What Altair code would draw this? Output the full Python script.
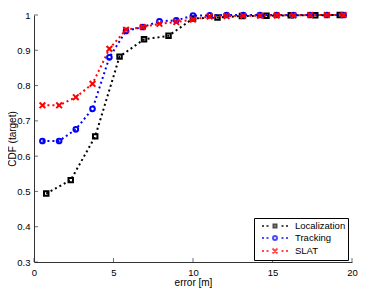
import altair as alt
import pandas as pd

series_names = ["Localization", "Tracking", "SLAT"]
series_colors = ["black", "blue", "red"]

loc_error = [0.77, 2.31, 3.85, 5.38, 6.92, 8.46, 10.0, 11.54, 13.08, 14.62, 16.15, 17.69, 19.23]
loc_cdf = [0.494, 0.532, 0.656, 0.882, 0.931, 0.941, 0.990, 0.993, 0.997, 0.998, 0.999, 0.999, 1.0]

trk_error = [0.53, 1.58, 2.63, 3.68, 4.74, 5.79, 6.84, 7.89, 8.95, 10.0, 11.05, 12.11,
             13.16, 14.21, 15.26, 16.32, 17.37, 18.42, 19.47]
trk_cdf = [0.643, 0.643, 0.676, 0.734, 0.880, 0.955, 0.966, 0.982, 0.985, 0.998, 0.999, 1.0,
           1.0, 1.0, 1.0, 1.0, 1.0, 1.0, 1.0]

slat_error = [0.53, 1.58, 2.63, 3.68, 4.74, 5.79, 6.84, 7.89, 8.95, 10.0, 11.05, 12.11,
              13.16, 14.21, 15.26, 16.32, 17.37, 18.42, 19.47]
slat_cdf = [0.744, 0.744, 0.767, 0.805, 0.904, 0.958, 0.966, 0.975, 0.980, 0.987, 0.996, 0.997,
            0.998, 0.998, 0.999, 0.999, 1.0, 1.0, 1.0]

y_tick_values = [0.3, 0.4, 0.5, 0.6, 0.7, 0.8, 0.9, 1.0]
x_tick_values = [0, 5, 10, 15, 20]
x_min, y_min = 0, 0.3

rows = []
for name, xs, ys in zip(series_names, [loc_error, trk_error, slat_error], [loc_cdf, trk_cdf, slat_cdf]):
    for xv, yv in zip(xs, ys):
        rows.append({"series": name, "error": xv, "cdf": yv})
df = pd.DataFrame(rows)
xticks_df = pd.DataFrame({"error": x_tick_values, "cdf": [y_min] * len(x_tick_values)})
yticks_df = pd.DataFrame({"cdf": y_tick_values, "error": [x_min] * len(y_tick_values)})

FONT = "Liberation Sans"
AXIS_COLOR = "#333333"

marker_shape = ["square", "circle", "M-1,-1L1,1M-1,1L1,-1"]
marker_size = [20, 22, 32]

# legend glyphs (unit = 5 px for symbolSize 100)
dashes = "M-2.6,0H-2.2M-1.7,0H-1.3M1.3,0H1.7M2.2,0H2.6"
legend_paths = [
    dashes + "M-0.3,-0.3H0.3V0.3H-0.3Z",
    dashes + "M-0.4,0A0.4,0.4 0 1,0 0.4,0A0.4,0.4 0 1,0 -0.4,0",
    dashes + "M-0.5,-0.5L0.5,0.5M-0.5,0.5L0.5,-0.5",
]

color_scale = alt.Scale(domain=series_names, range=series_colors)
shape_scale = alt.Scale(domain=series_names, range=legend_paths)
legend = alt.Legend(
    title=None, orient="none", legendX=220, legendY=203,
    strokeColor="black", fillColor="white", padding=2,
    labelFont=FONT, labelFontSize=9.5, labelColor="black", labelOffset=14,
    symbolSize=100, symbolStrokeWidth=2, symbolOffset=13, rowPadding=0,
)

x_enc = alt.X("error:Q", scale=alt.Scale(domain=[0, 20], nice=False),
              axis=alt.Axis(values=x_tick_values, title="error [m]", grid=False,
                            ticks=False, labelPadding=5, titlePadding=1,
                            labelOverlap=False, labelFlush=False))
y_enc = alt.Y("cdf:Q", scale=alt.Scale(domain=[0.3, 1.0], nice=False, zero=False),
              axis=alt.Axis(values=y_tick_values, format="~g", title="CDF (target)", grid=False,
                            ticks=False, labelPadding=4, titleX=-16.5,
                            labelOverlap=False, labelFlush=False))

base = alt.Chart(df)
layers = []
for i, name in enumerate(series_names):
    sub = base.transform_filter(alt.datum.series == name)
    layers.append(sub.mark_line(strokeDash=[2, 3], strokeWidth=2, color=series_colors[i])
                  .encode(x=x_enc, y=y_enc))
    layers.append(sub.mark_point(filled=False, strokeWidth=2, opacity=1, color=series_colors[i],
                                 shape=marker_shape[i], size=marker_size[i])
                  .encode(x=x_enc, y=y_enc))

# legend-only layer (no rows survive the filter; entries come from the scale domain)
legend_layer = base.transform_filter("datum.error < 0").mark_point(filled=False, strokeWidth=2).encode(
    x=x_enc, y=y_enc,
    color=alt.Color("series:N", scale=color_scale, legend=legend),
    shape=alt.Shape("series:N", scale=shape_scale, legend=legend),
)

# inward ticks
xtick_layer = alt.Chart(xticks_df).mark_tick(orient="vertical", size=4, thickness=1,
                                            yOffset=-2, color=AXIS_COLOR).encode(x=x_enc, y=y_enc)
ytick_layer = alt.Chart(yticks_df).mark_tick(orient="horizontal", size=4, thickness=1,
                                            xOffset=2, color=AXIS_COLOR).encode(x=x_enc, y=y_enc)

chart = alt.layer(legend_layer, xtick_layer, ytick_layer, *layers).properties(
    width=318, height=247,
    autosize=alt.AutoSizeParams(type="none"),
    padding={"left": 26, "top": 7, "right": 6, "bottom": 28},
).configure_view(stroke=None).configure_axis(
    labelFont=FONT, titleFont=FONT, labelFontSize=9.5, titleFontSize=10,
    titleFontWeight="normal", labelColor="black", titleColor="black",
    domainColor=AXIS_COLOR, domainWidth=1,
)

chart.save("out.html", embed_options={"renderer": "svg", "actions": False})
